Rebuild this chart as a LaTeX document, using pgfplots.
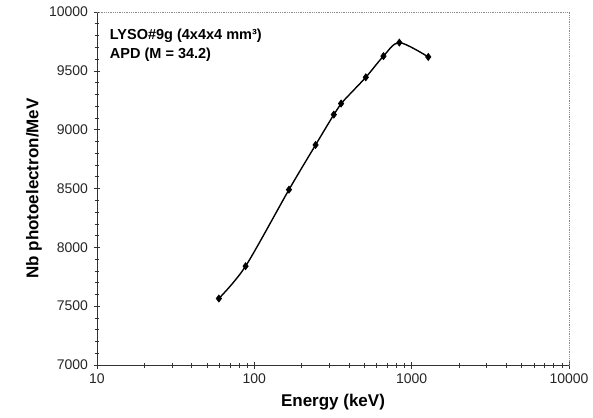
\documentclass[border=0pt]{standalone}
\usepackage{fontspec}
\setmainfont{Liberation Sans}
\usepackage{pgfplots}
\pgfplotsset{compat=1.18}
\begin{document}
\begin{tikzpicture}
\begin{axis}[
  scale only axis,
  width=472bp, height=353bp,
  xmode=log, log basis x=10,
  xmin=10, xmax=10000,
  ymin=7000, ymax=10000,
  scaled y ticks=false,
  ytick={7000,7500,8000,8500,9000,9500,10000},
  yticklabels={7000,7500,8000,8500,9000,9500,10000},
  minor y tick num=4,
  xtick={10,100,1000,10000},
  xticklabels={10,100,1000,10000},
  minor xtick={20,30,40,50,60,70,80,90,200,300,400,500,600,700,800,900,2000,3000,4000,5000,6000,7000,8000,9000},
  tick label style={font=\fontsize{14bp}{16bp}\selectfont, text=black!85},
  yticklabel style={anchor=east, xshift=-2bp},
  xticklabel style={anchor=north, yshift=-2bp},
  xtick pos=bottom, ytick pos=left,
  tick align=center,
  major tick length=7bp, minor tick length=5bp,
  tick style={black!80, line width=0.6pt},
  axis line style={draw=none},
  clip=false,
]
\path (rel axis cs:0,0) ++(-97bp,-53bp) -- ++(593bp,418bp);
\draw[black!80, line width=0.8pt] (rel axis cs:0,1) -- (rel axis cs:0,0) -- (rel axis cs:1,0);
\draw[black!45, line width=0.8pt, densely dotted] (rel axis cs:0,1) -- (rel axis cs:1,1) -- (rel axis cs:1,0);
\addplot[black, line width=1.4pt, smooth, tension=0.5, mark=diamond*, mark size=3.6bp, mark options={solid, line width=0.6pt}]
 coordinates {
 (59.5,7565) (88,7840) (166,8490) (245,8870) (320,9128) (356,9222) (511,9445) (662,9625) (835,9740) (1275,9618)
 };
\node[anchor=north west, align=left, font=\fontsize{14.5bp}{19bp}\selectfont\bfseries, inner sep=0pt]
  at (rel axis cs:0.027,0.952) {LYSO\#9g (4x4x4 mm³)\\APD (M = 34.2)};
\node[font=\fontsize{17bp}{20bp}\selectfont\bfseries] at ([yshift=-37bp]rel axis cs:0.5,0) {Energy (keV)};
\node[rotate=90, font=\fontsize{17bp}{20bp}\selectfont\bfseries] at ([xshift=-63bp]rel axis cs:0,0.5) {Nb photoelectron/MeV};
\end{axis}
\end{tikzpicture}
\end{document}
